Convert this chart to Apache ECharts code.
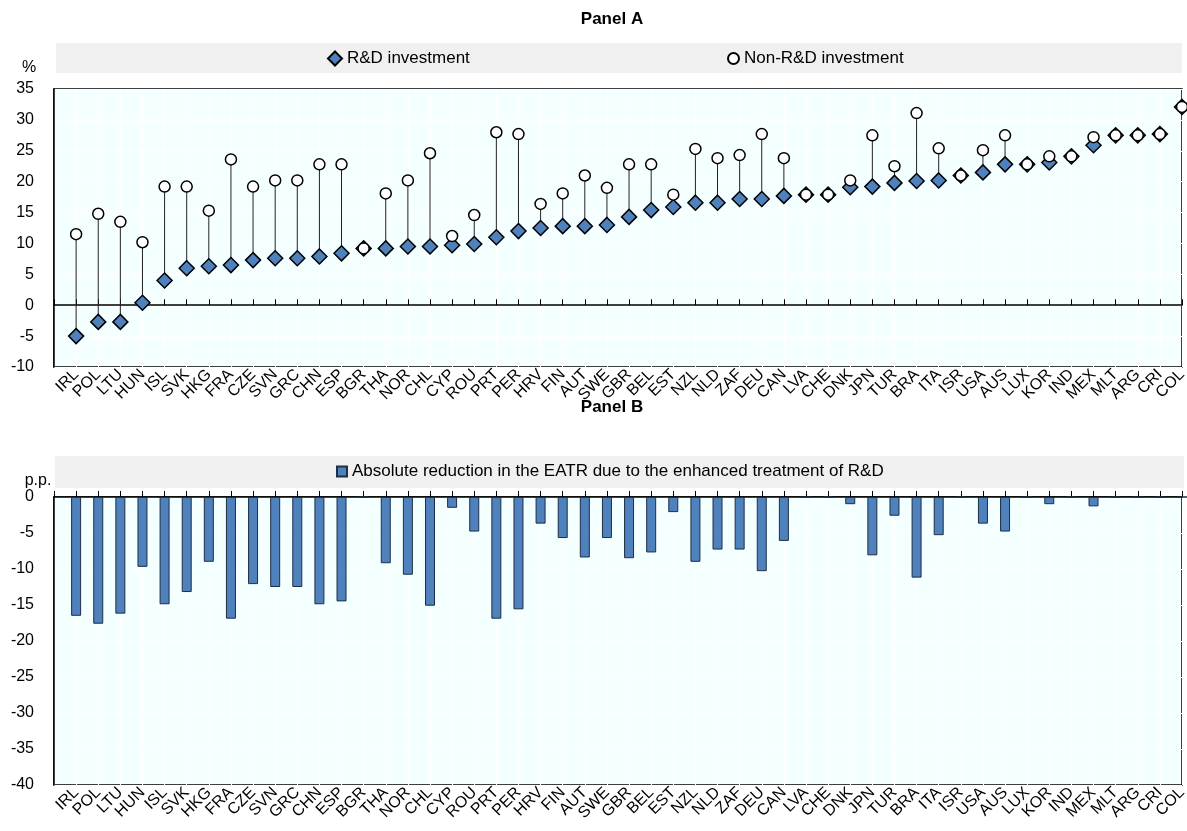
<!DOCTYPE html>
<html>
<head>
<meta charset="utf-8">
<script src="https://cdn.jsdelivr.net/npm/echarts@6/dist/echarts.min.js"></script>
<style>
  html, body { margin: 0; padding: 0; background: #fff; }
  #chart { width: 1187px; height: 831px; }
</style>
</head>
<body>
<div id="chart"></div>
<script>
// countries, sorted by the EATR on R&D investment
var countries = ['IRL', 'POL', 'LTU', 'HUN', 'ISL', 'SVK', 'HKG', 'FRA', 'CZE', 'SVN', 'GRC', 'CHN', 'ESP', 'BGR', 'THA',
    'NOR', 'CHL', 'CYP', 'ROU', 'PRT', 'PER', 'HRV', 'FIN', 'AUT', 'SWE', 'GBR', 'BEL', 'EST', 'NZL', 'NLD', 'ZAF', 'DEU',
    'CAN', 'LVA', 'CHE', 'DNK', 'JPN', 'TUR', 'BRA', 'ITA', 'ISR', 'USA', 'AUS', 'LUX', 'KOR', 'IND', 'MEX', 'MLT', 'ARG',
    'CRI', 'COL'];

// Panel A, %
var rdInvestment = [-5.0, -2.7, -2.7, 0.4, 4.0, 6.0, 6.3, 6.5, 7.3, 7.6, 7.6, 7.9, 8.4, 9.2, 9.2,
    9.5, 9.5, 9.7, 9.9, 11.0, 12.0, 12.5, 12.8, 12.8, 13.0, 14.3, 15.4, 15.9, 16.6, 16.6, 17.2, 17.2,
    17.7, 17.9, 17.9, 19.1, 19.2, 19.8, 20.1, 20.2, 21.0, 21.5, 22.8, 22.8, 23.1, 24.1, 25.9, 27.5, 27.5,
    27.7, 32.1];
var nonRdInvestment = [11.5, 14.8, 13.5, 10.2, 19.2, 19.2, 15.3, 23.6, 19.2, 20.2, 20.2, 22.8, 22.8, 9.2, 18.1,
    20.2, 24.6, 11.2, 14.6, 28.0, 27.7, 16.4, 18.1, 21.0, 19.0, 22.8, 22.8, 17.9, 25.3, 23.8, 24.3, 27.7,
    23.8, 17.9, 17.9, 20.2, 27.5, 22.5, 31.1, 25.4, 21.0, 25.1, 27.5, 22.8, 24.1, 24.1, 27.2, 27.5, 27.5,
    27.7, 32.1];

// Panel B, p.p.
var eatrReduction = [-16.5, -17.6, -16.2, -9.7, -14.9, -13.2, -9.0, -16.9, -12.1, -12.5, -12.5, -14.9, -14.5, 0, -9.2,
    -10.8, -15.1, -1.5, -4.8, -16.9, -15.6, -3.7, -5.7, -8.4, -5.7, -8.5, -7.7, -2.1, -9.0, -7.3, -7.3, -10.3,
    -6.1, 0, 0, -1.0, -8.1, -2.6, -11.2, -5.3, 0, -3.7, -4.8, 0, -1.0, 0, -1.3, 0, 0,
    0, 0];

var yTicksA = [-10, 35, 5];
var yTicksB = [-40, 0, 5];

var chart = echarts.init(document.getElementById('chart'));

var font = 'Liberation Sans, Arial, sans-serif';
var blue = '#4F81BD';
var plotBg = '#F4FFFF';
var axisCats = [''].concat(countries);

var tickAxis = function (gridIndex, position) {
    return {
        type: 'category',
        gridIndex: gridIndex,
        data: axisCats,
        position: position,
        boundaryGap: false,
        axisLine: { show: true, onZero: position === 'bottom', lineStyle: { color: '#000', width: 1.5 } },
        axisTick: { show: true, inside: position === 'bottom', length: 6, interval: 0, lineStyle: { color: '#000', width: 1 } },
        axisLabel: { show: false },
        splitLine: { show: true, interval: 0, lineStyle: { color: '#fff', width: 1 } }
    };
};
var labelAxis = function (gridIndex) {
    return {
        type: 'category',
        gridIndex: gridIndex,
        data: axisCats,
        position: 'bottom',
        boundaryGap: false,
        axisLine: { show: false, onZero: false },
        axisTick: { show: false },
        axisLabel: { interval: 0, rotate: 45, margin: 5, fontSize: 16, color: '#000', fontFamily: font },
        splitLine: { show: false }
    };
};
var valueAxis = function (gridIndex, t) {
    return {
        type: 'value',
        gridIndex: gridIndex,
        min: t[0],
        max: t[1],
        interval: t[2],
        axisLine: { show: true, onZero: false, lineStyle: { color: '#000', width: 1.5 } },
        axisTick: { show: false },
        axisLabel: { margin: 20, fontSize: 16, color: '#000', fontFamily: font },
        splitLine: { show: true, lineStyle: { color: '#fff', width: 1 } }
    };
};

option = {
    animation: false,
    backgroundColor: '#fff',
    textStyle: { fontFamily: font },
    grid: [
        { left: 54, top: 89, width: 1128, height: 278, show: true, backgroundColor: plotBg, borderColor: '#000', borderWidth: 1.5, outerBoundsMode: 'none' },
        { left: 54, top: 497, width: 1128, height: 288, show: true, backgroundColor: plotBg, borderColor: '#000', borderWidth: 1.5, outerBoundsMode: 'none' }
    ],
    xAxis: [tickAxis(0, 'bottom'), labelAxis(0), tickAxis(1, 'top'), labelAxis(1)],
    yAxis: [valueAxis(0, yTicksA), valueAxis(1, yTicksB)],
    legend: [
        {
            left: 327, top: 50, padding: 0, itemWidth: 14, itemHeight: 14,
            data: [{ name: 'R&D investment', icon: 'diamond' }],
            textStyle: { fontSize: 17, color: '#000', fontFamily: font }
        },
        {
            left: 727, top: 50, padding: 0, itemWidth: 11, itemHeight: 11,
            data: [{ name: 'Non-R&D investment', icon: 'circle' }],
            textStyle: { fontSize: 17, color: '#000', fontFamily: font }
        },
        {
            left: 336, top: 463, padding: 0, itemWidth: 10, itemHeight: 10,
            data: [{ name: 'Absolute reduction in the EATR due to the enhanced treatment of R&D', icon: 'rect' }],
            textStyle: { fontSize: 17, color: '#000', fontFamily: font }
        }
    ],
    graphic: [
        { type: 'rect', shape: { x: 56, y: 43, width: 1126, height: 30 }, style: { fill: '#F0F0F0' }, z: -1 },
        { type: 'rect', shape: { x: 55, y: 456, width: 1129, height: 32 }, style: { fill: '#F0F0F0' }, z: -1 },
        { type: 'text', x: 612, y: 19, style: { text: 'Panel A', font: 'bold 17px Liberation Sans, Arial', fill: '#000', textAlign: 'center', textVerticalAlign: 'middle' } },
        { type: 'text', x: 612, y: 407, style: { text: 'Panel B', font: 'bold 17px Liberation Sans, Arial', fill: '#000', textAlign: 'center', textVerticalAlign: 'middle' } },
        { type: 'text', x: 29, y: 68, style: { text: '%', font: '16px Liberation Sans, Arial', fill: '#000', textAlign: 'center', textVerticalAlign: 'middle' } },
        { type: 'text', x: 38, y: 481, style: { text: 'p.p.', font: '16px Liberation Sans, Arial', fill: '#000', textAlign: 'center', textVerticalAlign: 'middle' } }
    ],
    series: [
        {
            type: 'custom',
            name: 'gap',
            xAxisIndex: 0,
            yAxisIndex: 0,
            data: countries.map(function (c, i) { return [c, rdInvestment[i], nonRdInvestment[i]]; }),
            renderItem: function (params, api) {
                var a = api.coord([api.value(0), api.value(1)]);
                var b = api.coord([api.value(0), api.value(2)]);
                return {
                    type: 'line',
                    shape: { x1: a[0], y1: a[1], x2: b[0], y2: b[1] },
                    style: { stroke: '#222', lineWidth: 1 }
                };
            },
            z: 2
        },
        {
            type: 'scatter',
            name: 'R&D investment',
            xAxisIndex: 0,
            yAxisIndex: 0,
            symbol: 'diamond',
            symbolSize: 15,
            data: countries.map(function (c, i) { return [c, rdInvestment[i]]; }),
            itemStyle: { color: blue, borderColor: '#000', borderWidth: 1.5, opacity: 1 },
            z: 3
        },
        {
            type: 'scatter',
            name: 'Non-R&D investment',
            xAxisIndex: 0,
            yAxisIndex: 0,
            symbol: 'circle',
            symbolSize: 11,
            data: countries.map(function (c, i) { return [c, nonRdInvestment[i]]; }),
            itemStyle: { color: '#fff', borderColor: '#000', borderWidth: 1.5, opacity: 1 },
            z: 4
        },
        {
            type: 'bar',
            name: 'Absolute reduction in the EATR due to the enhanced treatment of R&D',
            xAxisIndex: 2,
            yAxisIndex: 1,
            barWidth: 10,
            data: countries.map(function (c, i) { return [c, eatrReduction[i]]; }),
            itemStyle: { color: blue, borderColor: '#1d2f45', borderWidth: 1 }
        }
    ]
};

chart.setOption(option);
</script>
</body>
</html>
